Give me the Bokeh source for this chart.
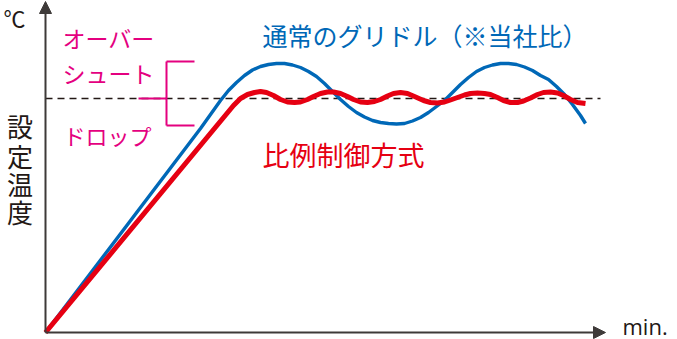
from bokeh.plotting import figure
from bokeh.models import Range1d, Arrow, NormalHead
from bokeh.core.properties import value
from bokeh.embed import file_html
from bokeh.resources import INLINE

# ---- data (time in arbitrary units, temperature in arbitrary units) ----
set_temp = 234
time_end = 555

griddle_time = [0, 155, 165, 175, 183, 191, 199, 207, 215, 223, 231, 239, 247, 255, 263, 271,
                279, 287, 295, 303, 311, 319, 327, 335, 343, 351, 359, 367, 375, 383, 391, 399,
                407, 415, 423, 431, 439, 447, 455, 463, 471, 479, 487, 495, 503, 511, 519, 527,
                535, 540]
griddle_temp = [0, 204, 218, 232, 242, 250, 257, 262.5, 266, 268, 269, 269, 267.5, 265, 261, 256,
                249, 241, 233, 226, 220, 215.5, 212, 210, 209, 208.5, 209, 211.5, 215, 220, 226, 232,
                240, 248, 255, 261, 265, 267.5, 269, 269, 268, 265.5, 262, 257, 253, 246, 238, 228,
                217, 209]

prop_time = [0, 188, 195, 202, 209, 215, 221, 228, 235, 242, 249, 255, 262, 268, 275, 282,
             288, 295, 302, 308, 315, 322, 329, 335, 342, 348, 355, 362, 369, 378, 385, 392,
             399, 405, 412, 419, 425, 432, 439, 445, 452, 458, 465, 472, 478, 485, 492, 498,
             505, 512, 518, 525, 532, 540]
prop_temp = [0, 227, 234, 238, 240, 241, 240, 237, 233, 230.5, 230, 230.5, 233, 236, 239, 240.5,
             240.5, 239, 236, 233, 230.5, 230, 231, 233, 236.5, 239, 240, 239, 236, 232, 230, 229.5,
             230.5, 232.5, 235, 237.5, 239, 239.5, 239, 238, 235, 232, 230, 230, 231.5, 234.5, 238, 240,
             240.5, 239.5, 237, 233, 230, 229]

unit_label = ["℃"]
time_label = ["min."]
axis_title = ["設", "定", "温", "度"]
overshoot_label = ["オーバー", "シュート"]
drop_label = ["ドロップ"]
griddle_label = ["通常のグリドル（※当社比）"]
prop_label = ["比例制御方式"]

# ---- styles ----
AXIS = "#3e3a39"
BLUE = "#0068b7"
RED = "#e60012"
PINK = "#e4007f"
JP = value("Noto Sans CJK JP")

p = figure(width=677, height=339, x_range=Range1d(-45, 632), y_range=Range1d(-7, 332),
           x_axis_type=None, y_axis_type=None, toolbar_location=None,
           output_backend="svg", min_border=0)
p.grid.visible = False
p.outline_line_color = None
p.background_fill_color = "white"

# axes with arrows
p.add_layout(Arrow(x_start=0, y_start=0, x_end=0, y_end=331, line_color=AXIS, line_width=2,
                   end=NormalHead(size=12, fill_color=AXIS, line_color=AXIS, line_width=1)))
p.add_layout(Arrow(x_start=0, y_start=0, x_end=560, y_end=0, line_color=AXIS, line_width=2,
                   end=NormalHead(size=12, fill_color=AXIS, line_color=AXIS, line_width=1)))

# set temperature dashed line
p.line([0, time_end], [set_temp, set_temp], line_color="#231815", line_width=1.3, line_dash="7 5")

# curves
p.line(griddle_time, griddle_temp, line_color=BLUE, line_width=3.4, line_join="round")
p.line(prop_time, prop_temp, line_color=RED, line_width=5, line_join="round")

# overshoot / drop bracket (spans the griddle's swing around the set temperature)
top = max(griddle_temp)
bot = min(griddle_temp[griddle_temp.index(top):])
p.segment(x0=[121, 121, 121, 93], y0=[top + 2, top + 2, bot - 1.5, set_temp],
          x1=[121, 149, 149, 121], y1=[bot - 1.5, top + 2, bot - 1.5, set_temp],
          line_color=PINK, line_width=2)

# texts
p.text(x=[-42], y=[316], text=unit_label, text_font=JP, text_font_size="22px",
       text_color="#231815", text_baseline="middle", text_align="left")
p.text(x=[577], y=[7], text=time_label, text_font=value("Open Sans"), text_font_size="22px",
       text_color="#231815", text_baseline="middle", text_align="left")
p.text(x=[-25.5] * 4, y=[207, 177.5, 149.5, 121.5], text=axis_title, text_font=JP,
       text_font_size="26px", text_color="#231815", text_baseline="middle", text_align="center")
p.text(x=[17, 17], y=[294.5, 260], text=overshoot_label, text_font=JP, text_font_size="23px",
       text_color=PINK, text_baseline="middle", text_align="left")
p.text(x=[18], y=[198], text=drop_label, text_font=JP, text_font_size="22px",
       text_color=PINK, text_baseline="middle", text_align="left")
p.text(x=[217], y=[298], text=griddle_label, text_font=JP, text_font_size="25px",
       text_color=BLUE, text_baseline="middle", text_align="left")
p.text(x=[217], y=[178.5], text=prop_label, text_font=JP, text_font_size="27px",
       text_color=RED, text_baseline="middle", text_align="left")

open("out.html", "w").write(file_html(p, INLINE))
